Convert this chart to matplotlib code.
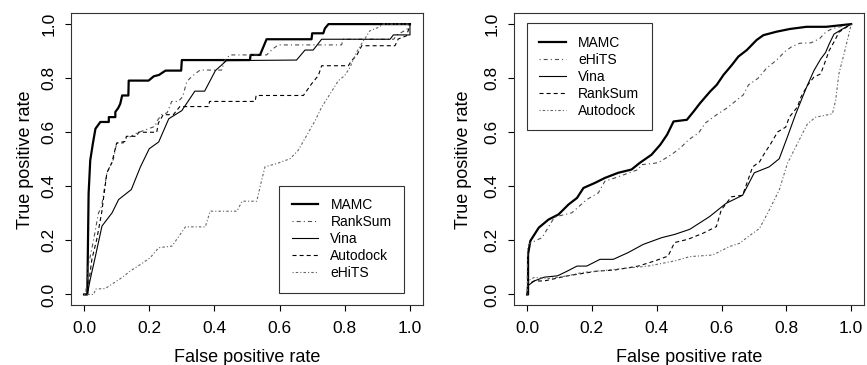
import matplotlib
matplotlib.use("Agg")
import matplotlib.pyplot as plt

# ---- left panel: ROC curves ----
left_mamc_x = [0.0, 0.01, 0.014, 0.019, 0.027, 0.035, 0.05, 0.076, 0.076, 0.096, 0.096, 0.105, 0.111, 0.117,
               0.136, 0.137, 0.198, 0.214, 0.23, 0.25, 0.298, 0.30, 0.509, 0.511, 0.54, 0.56, 0.698, 0.70,
               0.734, 0.739, 0.75, 1.0]
left_mamc_y = [0.0, 0.0, 0.373, 0.496, 0.558, 0.613, 0.638, 0.638, 0.656, 0.656, 0.675, 0.69, 0.705, 0.736,
               0.736, 0.791, 0.791, 0.807, 0.812, 0.828, 0.828, 0.867, 0.867, 0.886, 0.886, 0.944, 0.944, 0.966,
               0.966, 0.984, 1.0, 1.0]

left_vina_x = [0.0, 0.01, 0.019, 0.035, 0.055, 0.086, 0.106, 0.145, 0.173, 0.20, 0.229, 0.26, 0.30, 0.34,
               0.37, 0.403, 0.437, 0.652, 0.678, 0.703, 0.729, 0.939, 0.949, 0.99, 1.0, 1.0]
left_vina_y = [0.0, 0.0, 0.056, 0.142, 0.253, 0.302, 0.351, 0.388, 0.472, 0.539, 0.564, 0.65, 0.68, 0.752,
               0.752, 0.828, 0.865, 0.867, 0.904, 0.904, 0.944, 0.944, 0.96, 0.96, 0.96, 1.0]

left_autodock_x = [0.0, 0.01, 0.024, 0.039, 0.054, 0.07, 0.085, 0.10, 0.126, 0.13, 0.162, 0.167, 0.223, 0.228,
                   0.243, 0.274, 0.294, 0.382, 0.385, 0.525, 0.528, 0.673, 0.698, 0.719, 0.729, 0.811, 0.821,
                   0.836, 0.852, 0.954, 0.964, 0.99, 1.0]
left_autodock_y = [0.0, 0.0, 0.13, 0.204, 0.302, 0.45, 0.486, 0.56, 0.566, 0.585, 0.585, 0.60, 0.60, 0.634,
                   0.665, 0.665, 0.695, 0.695, 0.714, 0.714, 0.736, 0.736, 0.779, 0.81, 0.846, 0.846, 0.865,
                   0.883, 0.92, 0.92, 0.945, 0.957, 1.0]

left_ranksum_x = [0.0, 0.005, 0.013, 0.029, 0.044, 0.054, 0.07, 0.09, 0.10, 0.12, 0.129, 0.145, 0.162, 0.218,
                  0.223, 0.238, 0.255, 0.269, 0.289, 0.303, 0.315, 0.33, 0.356, 0.422, 0.432, 0.448, 0.56,
                  0.581, 0.596, 0.79, 0.795, 0.95, 0.96, 0.99, 1.0]
left_ranksum_y = [0.0, 0.0, 0.106, 0.20, 0.30, 0.327, 0.45, 0.50, 0.56, 0.56, 0.578, 0.585, 0.597, 0.622,
                  0.64, 0.665, 0.672, 0.714, 0.714, 0.732, 0.787, 0.806, 0.83, 0.83, 0.867, 0.886, 0.886,
                  0.91, 0.923, 0.923, 0.944, 0.944, 0.96, 0.98, 1.0]

left_ehits_x = [0.0, 0.03, 0.035, 0.065, 0.117, 0.142, 0.178, 0.203, 0.229, 0.27, 0.311, 0.372, 0.387, 0.469,
                0.485, 0.53, 0.54, 0.555, 0.591, 0.632, 0.657, 0.683, 0.709, 0.729, 0.755, 0.78, 0.80, 0.816,
                0.836, 0.857, 0.877, 0.903, 0.918, 1.0]
left_ehits_y = [0.0, 0.0, 0.02, 0.022, 0.063, 0.087, 0.115, 0.136, 0.173, 0.179, 0.25, 0.25, 0.308, 0.308,
                0.345, 0.345, 0.398, 0.472, 0.484, 0.502, 0.533, 0.588, 0.643, 0.693, 0.742, 0.79, 0.81, 0.84,
                0.896, 0.938, 0.975, 0.988, 1.0, 1.0]

# ---- right panel ----
right_mamc_x = [0.0, 0.003, 0.003, 0.01, 0.036, 0.066, 0.097, 0.128, 0.154, 0.174, 0.21, 0.24, 0.281, 0.322,
                0.348, 0.384, 0.411, 0.432, 0.452, 0.493, 0.514, 0.534, 0.565, 0.585, 0.606, 0.632, 0.652,
                0.678, 0.708, 0.729, 0.77, 0.811, 0.862, 0.923, 1.0]
right_mamc_y = [0.0, 0.0, 0.149, 0.198, 0.247, 0.277, 0.296, 0.333, 0.357, 0.394, 0.413, 0.431, 0.45, 0.462,
                0.487, 0.517, 0.554, 0.591, 0.64, 0.646, 0.677, 0.708, 0.751, 0.775, 0.812, 0.849, 0.88,
                0.904, 0.941, 0.959, 0.972, 0.982, 0.99, 0.99, 1.0]

right_ehits_x = [0.0, 0.002, 0.01, 0.046, 0.084, 0.097, 0.138, 0.184, 0.22, 0.24, 0.271, 0.343, 0.353, 0.404,
                 0.445, 0.473, 0.498, 0.529, 0.55, 0.585, 0.616, 0.642, 0.667, 0.683, 0.713, 0.739, 0.77,
                 0.795, 0.816, 0.841, 0.877, 0.903, 0.923, 0.944, 1.0]
right_ehits_y = [0.0, 0.18, 0.19, 0.21, 0.285, 0.29, 0.302, 0.351, 0.376, 0.419, 0.431, 0.462, 0.48, 0.487,
                 0.517, 0.542, 0.572, 0.597, 0.634, 0.665, 0.689, 0.714, 0.738, 0.775, 0.80, 0.837, 0.867,
                 0.898, 0.916, 0.929, 0.931, 0.947, 0.972, 0.984, 1.0]

right_vina_x = [0.0, 0.002, 0.022, 0.053, 0.094, 0.125, 0.154, 0.184, 0.225, 0.266, 0.312, 0.358, 0.415,
                0.455, 0.502, 0.563, 0.614, 0.665, 0.701, 0.747, 0.778, 0.803, 0.829, 0.86, 0.885, 0.906,
                0.921, 0.932, 0.947, 0.972, 1.0]
right_vina_y = [0.0, 0.032, 0.05, 0.064, 0.069, 0.087, 0.105, 0.105, 0.13, 0.13, 0.155, 0.185, 0.21,
                0.222, 0.241, 0.288, 0.337, 0.367, 0.45, 0.472, 0.502, 0.582, 0.668, 0.76, 0.828, 0.871,
                0.895, 0.926, 0.963, 0.981, 1.0]

right_ranksum_x = [0.0, 0.002, 0.022, 0.053, 0.125, 0.22, 0.268, 0.343, 0.394, 0.435, 0.455, 0.496, 0.542,
                   0.584, 0.599, 0.63, 0.665, 0.696, 0.717, 0.732, 0.752, 0.773, 0.798, 0.809, 0.834, 0.845,
                   0.865, 0.885, 0.906, 0.921, 0.932, 0.952, 0.962, 1.0]
right_ranksum_y = [0.0, 0.038, 0.05, 0.05, 0.069, 0.087, 0.09, 0.105, 0.124, 0.142, 0.192, 0.204, 0.226,
                   0.251, 0.312, 0.361, 0.367, 0.472, 0.49, 0.521, 0.558, 0.601, 0.619, 0.656, 0.693, 0.73,
                   0.773, 0.804, 0.816, 0.865, 0.902, 0.945, 0.97, 1.0]

right_autodock_x = [0.0, 0.002, 0.022, 0.069, 0.125, 0.169, 0.271, 0.373, 0.455, 0.502, 0.573, 0.624, 0.655,
                    0.696, 0.717, 0.742, 0.778, 0.803, 0.834, 0.865, 0.891, 0.942, 0.952, 0.962, 0.978, 0.993,
                    1.0]
right_autodock_y = [0.0, 0.05, 0.063, 0.059, 0.069, 0.081, 0.093, 0.105, 0.124, 0.14, 0.146, 0.177, 0.189,
                    0.226, 0.244, 0.30, 0.386, 0.484, 0.558, 0.631, 0.656, 0.668, 0.717, 0.816, 0.89, 0.963,
                    1.0]

ticks = [0.0, 0.2, 0.4, 0.6, 0.8, 1.0]
tick_labels = ["0.0", "0.2", "0.4", "0.6", "0.8", "1.0"]

plt.rcParams["font.family"] = ["Liberation Sans", "DejaVu Sans"]
plt.rcParams["lines.scale_dashes"] = False

SOLID_THICK = dict(color="black", lw=1.6, ls="-")
SOLID = dict(color="black", lw=0.8, ls="-")
DASHED = dict(color="black", lw=0.8, ls=(0, (2.9, 2.2)))
DOTDASH = dict(color="0.3", lw=0.8, ls=(0, (0.8, 2.2, 2.9, 2.2)))
TWODASH = dict(color="0.4", lw=0.8, ls=(0, (0.8, 1.5, 1.8, 1.5)))


def style_axes(ax, ylabelpad):
    ax.set_xlim(-0.04, 1.04)
    ax.set_ylim(-0.04, 1.04)
    ax.set_xticks(ticks)
    ax.set_xticklabels(tick_labels)
    ax.set_yticks(ticks)
    ax.set_yticklabels(tick_labels, rotation=90, va="center")
    ax.tick_params(direction="out", length=4.5, width=0.8, labelsize=12.5)
    ax.tick_params(axis="x", pad=7)
    ax.tick_params(axis="y", pad=6)
    for s in ax.spines.values():
        s.set_linewidth(0.8)
        s.set_color("0.2")
    ax.set_xlabel("False positive rate", fontsize=13, labelpad=9)
    ax.set_ylabel("True positive rate", fontsize=13, labelpad=ylabelpad)


fig = plt.figure(figsize=(8.67, 3.65), dpi=100)
ax1 = fig.add_axes([0.0819, 0.1636, 0.406, 0.80])
ax2 = fig.add_axes([0.593, 0.1636, 0.4037, 0.80])

ax1.plot(left_mamc_x, left_mamc_y, label="MAMC", **SOLID_THICK)
ax1.plot(left_ranksum_x, left_ranksum_y, label="RankSum", **DOTDASH)
ax1.plot(left_vina_x, left_vina_y, label="Vina", **SOLID)
ax1.plot(left_autodock_x, left_autodock_y, label="Autodock", **DASHED)
ax1.plot(left_ehits_x, left_ehits_y, label="eHiTS", **TWODASH)

ax2.plot(right_mamc_x, right_mamc_y, label="MAMC", **SOLID_THICK)
ax2.plot(right_ehits_x, right_ehits_y, label="eHiTS", **DOTDASH)
ax2.plot(right_vina_x, right_vina_y, label="Vina", **SOLID)
ax2.plot(right_ranksum_x, right_ranksum_y, label="RankSum", **DASHED)
ax2.plot(right_autodock_x, right_autodock_y, label="Autodock", **TWODASH)

style_axes(ax1, 5)
style_axes(ax2, 9)

leg_kw = dict(fontsize=10, frameon=True, fancybox=False, framealpha=1, edgecolor="0.2",
              handlelength=1.9, handletextpad=0.9, labelspacing=0.22, borderpad=0.9,
              borderaxespad=0)

l1 = ax1.legend(loc="lower left", bbox_to_anchor=(0.591, 0.043), **leg_kw)
l2 = ax2.legend(loc="upper left", bbox_to_anchor=(0.036, 0.966), **leg_kw)
for lg in (l1, l2):
    lg.get_frame().set_linewidth(0.8)

fig.savefig("out.png", dpi=100)
